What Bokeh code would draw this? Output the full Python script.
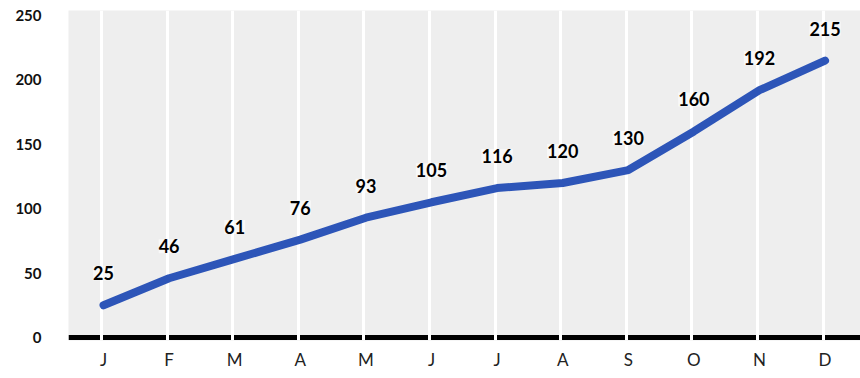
from bokeh.plotting import figure
from bokeh.models import ColumnDataSource, FixedTicker, LabelSet, Span, Range1d
from bokeh.core.properties import value
from bokeh.embed import file_html
from bokeh.resources import INLINE

months = ["J", "F", "M", "A", "M", "J", "J", "A", "S", "O", "N", "D"]
values = [25, 46, 61, 76, 93, 105, 116, 120, 130, 160, 192, 215]
y_ticks = [0, 50, 100, 150, 200, 250]

idx = list(range(len(months)))
src = ColumnDataSource(dict(x=idx, y=values, lab=[str(v) for v in values]))

p = figure(width=860, height=378, output_backend="svg", toolbar_location=None,
           x_range=Range1d(-0.534, 11.54), y_range=Range1d(-2.33, 253.9),
           min_border_left=68, min_border_right=0, min_border_top=10, min_border_bottom=38)
p.background_fill_color = "#eeeeee"
p.border_fill_color = "white"
p.outline_line_color = None

# baseline under the white gridlines
base = Span(location=0, dimension="width", line_color="black", line_width=5, level="image")
p.add_layout(base)

p.ygrid.grid_line_color = None
p.xgrid.ticker = FixedTicker(ticks=[i - 0.03 for i in idx])
p.xgrid.grid_line_color = "white"
p.xgrid.grid_line_width = 3
p.xgrid.level = "underlay"

p.line("x", "y", source=src, line_color="#2d55b8", line_width=8, line_cap="round")

labels = LabelSet(x="x", y="y", text="lab", source=src, y_offset=25,
                  text_align="center", text_baseline="bottom",
                  text_font=value("Lato"), text_font_style="bold", text_font_size="18px",
                  text_color="black", background_fill_color="white", background_fill_alpha=0.6)
p.add_layout(labels)

p.xaxis.ticker = FixedTicker(ticks=idx)
p.xaxis.major_label_overrides = {i: m for i, m in zip(idx, months)}
p.xaxis.axis_line_color = None
p.xaxis.major_tick_line_color = None
p.xaxis.minor_tick_line_color = None
p.xaxis.major_label_standoff = 2
p.xaxis.major_label_text_font = "Lato"
p.xaxis.major_label_text_font_size = "17px"
p.xaxis.major_label_text_color = "#222222"

p.yaxis.ticker = FixedTicker(ticks=y_ticks)
p.yaxis.axis_line_color = None
p.yaxis.major_tick_line_color = None
p.yaxis.minor_tick_line_color = None
p.yaxis.major_label_standoff = 21
p.yaxis.major_label_text_font = "Lato"
p.yaxis.major_label_text_font_style = "bold"
p.yaxis.major_label_text_font_size = "15px"
p.yaxis.major_label_text_color = "#111111"

open("out.html", "w").write(file_html(p, INLINE))
